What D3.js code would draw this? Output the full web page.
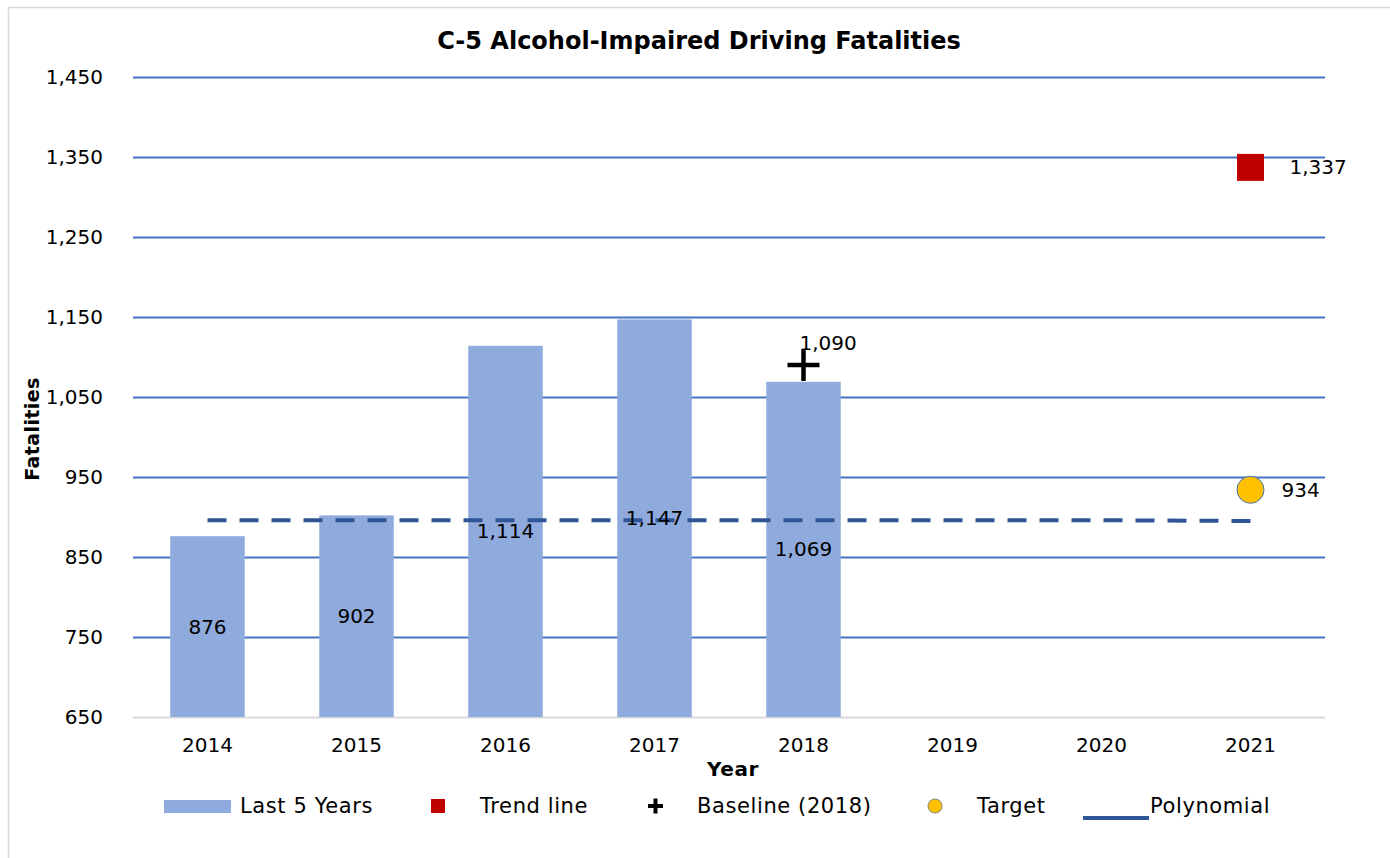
<!DOCTYPE html>
<html>
<head>
<meta charset="utf-8">
<script src="https://cdn.jsdelivr.net/npm/d3@7"></script>
<style>
  body { margin: 0; background: #fff; }
  text { font-family: "DejaVu Sans", sans-serif; fill: #000; }
</style>
</head>
<body>
<svg id="chart" width="1390" height="858"></svg>
<script>
// ---- data ----
var years = ['2014', '2015', '2016', '2017', '2018', '2019', '2020', '2021'];
var yTicks = [650, 750, 850, 950, 1050, 1150, 1250, 1350, 1450];
var last5Years = ['2014', '2015', '2016', '2017', '2018'];
var last5Values = [876, 902, 1114, 1147, 1069];
var trendYear = ['2021'];
var trendValue = [1337];
var baselineYear = ['2018'];
var baselineValue = [1090];
var targetYear = ['2021'];
var targetValue = [934];
var polyYears = ['2014', '2015', '2016', '2017', '2018', '2019', '2020', '2021'];
var polyValues = [896, 896, 896, 896, 896, 896, 896, 895];

var svg = d3.select('#chart');
var fmt = d3.format(',');

// outer frame (only left and top edges fall inside the picture)
svg.append('rect')
    .attr('x', 8.5).attr('y', 7.5)
    .attr('width', 1500).attr('height', 900)
    .attr('fill', 'none')
    .attr('stroke', '#d9d9d9')
    .attr('stroke-width', 1.5);

var x = d3.scaleBand().domain(years).range([133, 1325]).paddingInner(0.5).paddingOuter(0.25);
var xc = function (k) { return x(k) + x.bandwidth() / 2; };
var y = d3.scaleLinear().domain([650, 1450]).range([717, 77]);

// title
svg.append('text')
    .attr('x', 699).attr('y', 49)
    .attr('text-anchor', 'middle')
    .style('font-size', '24px').style('font-weight', 'bold')
    .text('C-5 Alcohol-Impaired Driving Fatalities');

// gridlines
var yAxis = d3.axisLeft(y).tickValues(yTicks).tickFormat(fmt)
    .tickSize(-(1325 - 133)).tickPadding(30);
var gy = svg.append('g').attr('transform', 'translate(133,0)').call(yAxis);
gy.select('.domain').remove();
gy.selectAll('.tick line')
    .attr('stroke', function (d) { return d === 650 ? '#d9d9d9' : '#4472c4'; })
    .attr('stroke-width', 2);
gy.selectAll('.tick text').style('font-size', '20px').attr('fill', '#000');

// x axis labels
var xAxis = d3.axisBottom(x).tickSize(0).tickPadding(21);
var gx = svg.append('g').attr('transform', 'translate(0,717)').call(xAxis);
gx.select('.domain').remove();
gx.selectAll('.tick text').style('font-size', '20px').attr('fill', '#000');

// axis titles
svg.append('text')
    .attr('transform', 'translate(39,429) rotate(-90)')
    .attr('text-anchor', 'middle')
    .style('font-size', '19px').style('font-weight', 'bold')
    .style('letter-spacing', '0.4px')
    .text('Fatalities');
svg.append('text')
    .attr('x', 733).attr('y', 776)
    .attr('text-anchor', 'middle')
    .style('font-size', '20px').style('font-weight', 'bold')
    .style('letter-spacing', '0.6px')
    .text('Year');

// bars
svg.selectAll('rect.bar')
    .data(last5Values)
    .enter().append('rect')
    .attr('class', 'bar')
    .attr('x', function (d, i) { return x(last5Years[i]); })
    .attr('width', x.bandwidth())
    .attr('y', function (d) { return y(d); })
    .attr('height', function (d) { return y(650) - y(d); })
    .attr('fill', '#8faadc');

// polynomial dashed line
var line = d3.line()
    .x(function (d, i) { return xc(polyYears[i]); })
    .y(function (d) { return y(d); });
svg.append('path')
    .datum(polyValues)
    .attr('d', line)
    .attr('fill', 'none')
    .attr('stroke', '#2f5597')
    .attr('stroke-width', 4)
    .attr('stroke-dasharray', '19,13');

// bar labels (centered in bar)
svg.selectAll('text.barlabel')
    .data(last5Values)
    .enter().append('text')
    .attr('class', 'barlabel')
    .attr('x', function (d, i) { return xc(last5Years[i]); })
    .attr('y', function (d) { return (y(d) + y(650)) / 2 + 7; })
    .attr('text-anchor', 'middle')
    .style('font-size', '20px')
    .text(function (d) { return fmt(d); });

// baseline plus
baselineValue.forEach(function (v, i) {
    var cx = xc(baselineYear[i]), cy = y(v);
    svg.append('path')
        .attr('d', 'M' + (cx - 16) + ',' + cy + 'H' + (cx + 16) + 'M' + cx + ',' + (cy - 16) + 'V' + (cy + 16))
        .attr('stroke', '#000').attr('stroke-width', 4.5);
    svg.append('text')
        .attr('x', cx - 4).attr('y', cy - 15)
        .style('font-size', '20px')
        .text(fmt(v));
});

// trend square
trendValue.forEach(function (v, i) {
    var cx = xc(trendYear[i]), cy = y(v);
    svg.append('rect')
        .attr('x', cx - 13.5).attr('y', cy - 13.5)
        .attr('width', 27).attr('height', 27)
        .attr('fill', '#c00000');
    svg.append('text')
        .attr('x', cx + 39).attr('y', cy + 7)
        .style('font-size', '20px')
        .text(fmt(v));
});

// target circle
targetValue.forEach(function (v, i) {
    var cx = xc(targetYear[i]), cy = y(v);
    svg.append('circle')
        .attr('cx', cx).attr('cy', cy).attr('r', 13.5)
        .attr('fill', '#ffc000')
        .attr('stroke', '#4472c4').attr('stroke-width', 1);
    svg.append('text')
        .attr('x', cx + 31).attr('y', cy + 7)
        .style('font-size', '20px')
        .text(fmt(v));
});

// legend
var lg = svg.append('g').style('font-size', '21px').style('letter-spacing', '0.6px');
var ly = 806;
lg.append('rect').attr('x', 164).attr('y', ly - 6).attr('width', 67).attr('height', 13).attr('fill', '#8faadc');
lg.append('text').attr('x', 240).attr('y', ly + 7).text('Last 5 Years');
lg.append('rect').attr('x', 431).attr('y', ly - 7).attr('width', 14).attr('height', 14).attr('fill', '#c00000');
lg.append('text').attr('x', 480).attr('y', ly + 7).text('Trend line');
lg.append('path')
    .attr('d', 'M648,' + ly + 'H663M655.5,' + (ly - 7.5) + 'V' + (ly + 7.5))
    .attr('stroke', '#000').attr('stroke-width', 4);
lg.append('text').attr('x', 697).attr('y', ly + 7).text('Baseline (2018)');
lg.append('circle').attr('cx', 935).attr('cy', ly).attr('r', 7)
    .attr('fill', '#ffc000').attr('stroke', '#7f7f7f').attr('stroke-width', 1);
lg.append('text').attr('x', 977).attr('y', ly + 7).text('Target');
lg.append('line').attr('x1', 1083).attr('x2', 1149).attr('y1', ly + 12).attr('y2', ly + 12)
    .attr('stroke', '#2f5597').attr('stroke-width', 4);
lg.append('text').attr('x', 1150).attr('y', ly + 7).text('Polynomial');
</script>
</body>
</html>
